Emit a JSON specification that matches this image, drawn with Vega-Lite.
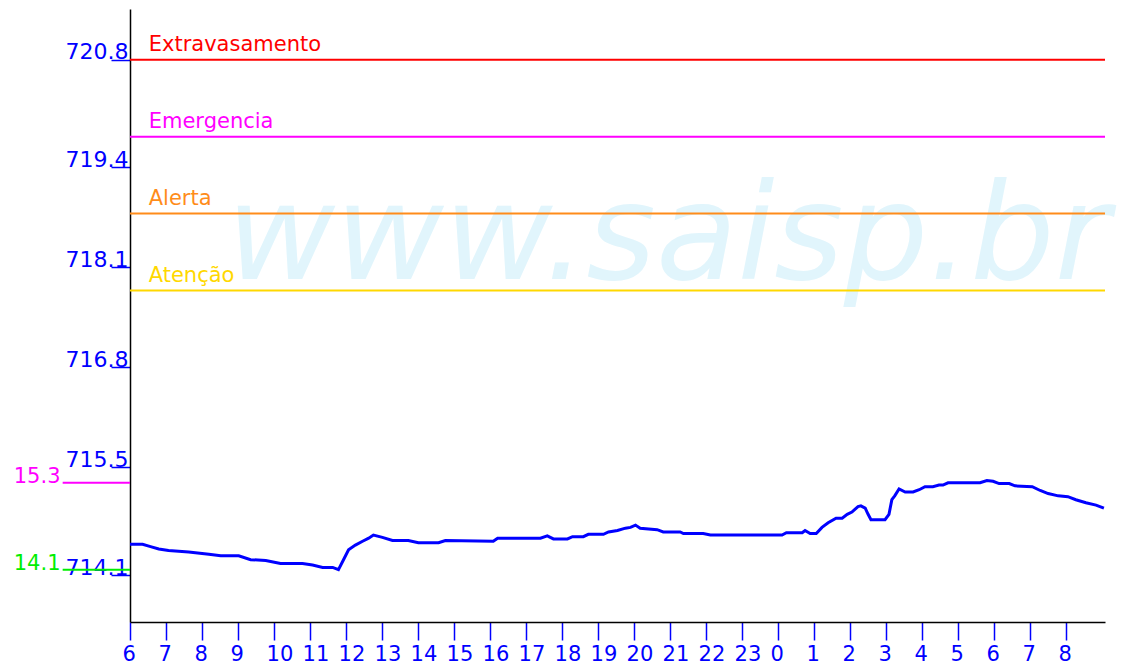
{
  "$schema": "https://vega.github.io/schema/vega-lite/v6.json",
  "width": 975,
  "height": 613,
  "autosize": {"type": "none"},
  "padding": {"left": 130, "top": 9, "right": 26, "bottom": 42},
  "background": "white",
  "config": {
    "view": {"stroke": null},
    "axisX": {"domainColor": "#000000", "domainWidth": 1.5, "tickColor": "#0000ff", "tickWidth": 1.5, "tickSize": 18, "labelColor": "#0000ff", "labelFont": "DejaVu Sans", "labelFontSize": 21, "labelAlign": "left", "labelOffset": -8, "labelBaseline": "alphabetic", "labelPadding": 20, "grid": false, "labelOverlap": false, "labelBound": false, "labelFlush": false},
    "axisY": {"domainColor": "#000000", "domainWidth": 1.5, "tickColor": "#0000ff", "tickWidth": 1.5, "tickSize": 19, "labelColor": "#0000ff", "labelFont": "DejaVu Sans", "labelFontSize": 22, "labelAlign": "right", "labelBaseline": "alphabetic", "labelPadding": -17, "labelOffset": -1, "grid": false, "labelOverlap": false, "labelBound": false, "labelFlush": false}
  },
  "datasets": {
    "limites": [
      {"nome": "Extravasamento", "nivel": 720.8},
      {"nome": "Emergencia", "nivel": 719.8},
      {"nome": "Alerta", "nivel": 718.8},
      {"nome": "Atenção", "nivel": 717.8}
    ],
    "referencias": [
      {"nome": "15.3", "nivel": 715.3},
      {"nome": "14.1", "nivel": 714.17}
    ],
    "serie": [
      {"h": 0.0, "nivel": 714.50}, {"h": 0.35, "nivel": 714.50}, {"h": 0.57, "nivel": 714.47}, {"h": 0.80, "nivel": 714.44},
      {"h": 1.07, "nivel": 714.42}, {"h": 1.63, "nivel": 714.40}, {"h": 2.19, "nivel": 714.37}, {"h": 2.52, "nivel": 714.35},
      {"h": 3.02, "nivel": 714.35}, {"h": 3.35, "nivel": 714.30}, {"h": 3.77, "nivel": 714.29}, {"h": 4.18, "nivel": 714.25},
      {"h": 4.79, "nivel": 714.25}, {"h": 5.07, "nivel": 714.23}, {"h": 5.35, "nivel": 714.20}, {"h": 5.63, "nivel": 714.20},
      {"h": 5.79, "nivel": 714.17}, {"h": 5.93, "nivel": 714.30}, {"h": 6.07, "nivel": 714.43}, {"h": 6.26, "nivel": 714.49},
      {"h": 6.46, "nivel": 714.54}, {"h": 6.63, "nivel": 714.58}, {"h": 6.76, "nivel": 714.62}, {"h": 7.01, "nivel": 714.59},
      {"h": 7.29, "nivel": 714.55}, {"h": 7.73, "nivel": 714.55}, {"h": 8.01, "nivel": 714.52}, {"h": 8.57, "nivel": 714.52},
      {"h": 8.76, "nivel": 714.55}, {"h": 10.09, "nivel": 714.54}, {"h": 10.21, "nivel": 714.58}, {"h": 11.40, "nivel": 714.58},
      {"h": 11.59, "nivel": 714.61}, {"h": 11.76, "nivel": 714.57}, {"h": 12.15, "nivel": 714.57}, {"h": 12.29, "nivel": 714.60},
      {"h": 12.59, "nivel": 714.60}, {"h": 12.73, "nivel": 714.63}, {"h": 13.15, "nivel": 714.63}, {"h": 13.29, "nivel": 714.66},
      {"h": 13.54, "nivel": 714.68}, {"h": 13.76, "nivel": 714.71}, {"h": 13.90, "nivel": 714.72}, {"h": 14.04, "nivel": 714.75},
      {"h": 14.17, "nivel": 714.71}, {"h": 14.64, "nivel": 714.69}, {"h": 14.81, "nivel": 714.66}, {"h": 15.28, "nivel": 714.66},
      {"h": 15.37, "nivel": 714.64}, {"h": 15.92, "nivel": 714.64}, {"h": 16.12, "nivel": 714.62}, {"h": 18.11, "nivel": 714.62},
      {"h": 18.23, "nivel": 714.65}, {"h": 18.67, "nivel": 714.65}, {"h": 18.75, "nivel": 714.68}, {"h": 18.89, "nivel": 714.64},
      {"h": 19.06, "nivel": 714.64}, {"h": 19.22, "nivel": 714.72}, {"h": 19.39, "nivel": 714.78}, {"h": 19.61, "nivel": 714.84},
      {"h": 19.78, "nivel": 714.84}, {"h": 19.92, "nivel": 714.89}, {"h": 20.05, "nivel": 714.92}, {"h": 20.22, "nivel": 714.99},
      {"h": 20.30, "nivel": 715.00}, {"h": 20.42, "nivel": 714.97}, {"h": 20.50, "nivel": 714.89}, {"h": 20.58, "nivel": 714.82},
      {"h": 20.97, "nivel": 714.82}, {"h": 21.08, "nivel": 714.89}, {"h": 21.16, "nivel": 715.08}, {"h": 21.24, "nivel": 715.13},
      {"h": 21.36, "nivel": 715.22}, {"h": 21.53, "nivel": 715.18}, {"h": 21.75, "nivel": 715.18}, {"h": 21.92, "nivel": 715.21},
      {"h": 22.08, "nivel": 715.25}, {"h": 22.30, "nivel": 715.25}, {"h": 22.47, "nivel": 715.27}, {"h": 22.58, "nivel": 715.27},
      {"h": 22.72, "nivel": 715.30}, {"h": 23.61, "nivel": 715.30}, {"h": 23.80, "nivel": 715.33}, {"h": 23.97, "nivel": 715.32},
      {"h": 24.14, "nivel": 715.29}, {"h": 24.42, "nivel": 715.29}, {"h": 24.58, "nivel": 715.26}, {"h": 25.06, "nivel": 715.25},
      {"h": 25.28, "nivel": 715.20}, {"h": 25.50, "nivel": 715.16}, {"h": 25.78, "nivel": 715.13}, {"h": 26.05, "nivel": 715.12},
      {"h": 26.27, "nivel": 715.08}, {"h": 26.55, "nivel": 715.04}, {"h": 26.83, "nivel": 715.01}, {"h": 27.05, "nivel": 714.97}
    ],
    "marca": [{"texto": "www.saisp.br"}]
  },
  "layer": [
    {
      "data": {"name": "marca"},
      "mark": {"type": "text", "font": "DejaVu Sans", "fontStyle": "italic", "fontSize": 133, "color": "#e1f5fc", "align": "left", "baseline": "alphabetic"},
      "encoding": {
        "x": {"datum": 2.68, "type": "quantitative", "scale": {"domain": [0, 27.08], "nice": false, "zero": false}, "axis": {"title": null, "values": [0,1,2,3,4,5,6,7,8,9,10,11,12,13,14,15,16,17,18,19,20,21,22,23,24,25,26], "labelExpr": "toString((datum.value + 6) % 24)"}},
        "y": {"datum": 717.95, "type": "quantitative", "scale": {"domain": [713.49, 721.46], "nice": false, "zero": false}, "axis": {"title": null, "values": [714.1, 715.5, 716.8, 718.1, 719.4, 720.8], "format": ".1f"}},
        "text": {"field": "texto"}
      }
    },
    {
      "data": {"name": "limites"},
      "mark": {"type": "rule", "strokeWidth": 2},
      "encoding": {
        "y": {"field": "nivel", "type": "quantitative", "scale": {"domain": [713.49, 721.46], "nice": false, "zero": false}, "axis": {"title": null, "values": [714.1, 715.5, 716.8, 718.1, 719.4, 720.8], "format": ".1f"}},
        "color": {"field": "nome", "type": "nominal", "scale": {"domain": ["Extravasamento", "Emergencia", "Alerta", "Atenção", "15.3", "14.1"], "range": ["#ff0000", "#ff00ff", "#ff8c1a", "#ffd800", "#ff00ff", "#00ee00"]}, "legend": null}
      }
    },
    {
      "data": {"name": "limites"},
      "mark": {"type": "text", "font": "DejaVu Sans", "fontSize": 21, "align": "left", "baseline": "alphabetic", "dy": -9},
      "encoding": {
        "x": {"datum": 0.52, "type": "quantitative", "scale": {"domain": [0, 27.08], "nice": false, "zero": false}, "axis": {"title": null, "values": [0,1,2,3,4,5,6,7,8,9,10,11,12,13,14,15,16,17,18,19,20,21,22,23,24,25,26], "labelExpr": "toString((datum.value + 6) % 24)"}},
        "y": {"field": "nivel", "type": "quantitative", "scale": {"domain": [713.49, 721.46], "nice": false, "zero": false}, "axis": {"title": null, "values": [714.1, 715.5, 716.8, 718.1, 719.4, 720.8], "format": ".1f"}},
        "text": {"field": "nome"},
        "color": {"field": "nome", "type": "nominal", "legend": null}
      }
    },
    {
      "data": {"name": "referencias"},
      "mark": {"type": "rule", "strokeWidth": 2, "clip": false},
      "encoding": {
        "x": {"datum": -1.87, "type": "quantitative", "scale": {"domain": [0, 27.08], "nice": false, "zero": false}, "axis": {"title": null, "values": [0,1,2,3,4,5,6,7,8,9,10,11,12,13,14,15,16,17,18,19,20,21,22,23,24,25,26], "labelExpr": "toString((datum.value + 6) % 24)"}},
        "x2": {"datum": 0},
        "y": {"field": "nivel", "type": "quantitative", "scale": {"domain": [713.49, 721.46], "nice": false, "zero": false}, "axis": {"title": null, "values": [714.1, 715.5, 716.8, 718.1, 719.4, 720.8], "format": ".1f"}},
        "color": {"field": "nome", "type": "nominal", "legend": null}
      }
    },
    {
      "data": {"name": "referencias"},
      "mark": {"type": "text", "font": "DejaVu Sans", "fontSize": 21, "align": "right", "baseline": "alphabetic", "clip": false},
      "encoding": {
        "x": {"datum": -1.93, "type": "quantitative", "scale": {"domain": [0, 27.08], "nice": false, "zero": false}, "axis": {"title": null, "values": [0,1,2,3,4,5,6,7,8,9,10,11,12,13,14,15,16,17,18,19,20,21,22,23,24,25,26], "labelExpr": "toString((datum.value + 6) % 24)"}},
        "y": {"field": "nivel", "type": "quantitative", "scale": {"domain": [713.49, 721.46], "nice": false, "zero": false}, "axis": {"title": null, "values": [714.1, 715.5, 716.8, 718.1, 719.4, 720.8], "format": ".1f"}},
        "text": {"field": "nome"},
        "color": {"field": "nome", "type": "nominal", "legend": null}
      }
    },
    {
      "data": {"name": "serie"},
      "mark": {"type": "line", "color": "#0000ff", "strokeWidth": 3},
      "encoding": {
        "x": {"field": "h", "type": "quantitative", "scale": {"domain": [0, 27.08], "nice": false, "zero": false}, "axis": {"title": null, "values": [0,1,2,3,4,5,6,7,8,9,10,11,12,13,14,15,16,17,18,19,20,21,22,23,24,25,26], "labelExpr": "toString((datum.value + 6) % 24)"}},
        "y": {"field": "nivel", "type": "quantitative", "scale": {"domain": [713.49, 721.46], "nice": false, "zero": false}, "axis": {"title": null, "values": [714.1, 715.5, 716.8, 718.1, 719.4, 720.8], "format": ".1f"}}
      }
    }
  ]
}
